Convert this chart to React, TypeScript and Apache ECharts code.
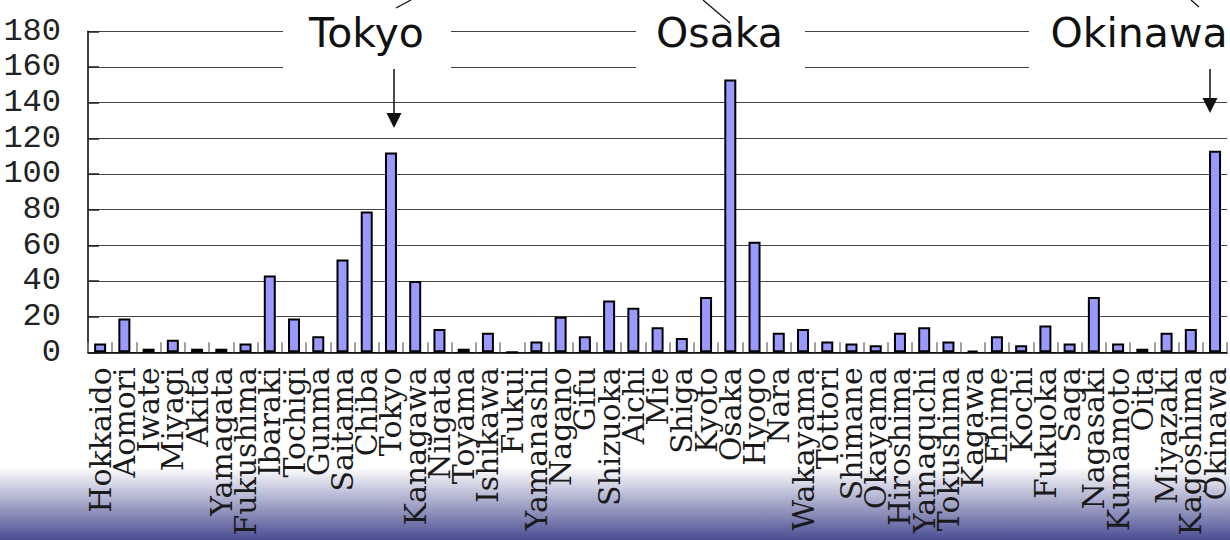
import React, { useEffect, useRef } from "react";
import * as echarts from "echarts";

const prefectures = [
  "Hokkaido", "Aomori", "Iwate", "Miyagi", "Akita", "Yamagata", "Fukushima",
  "Ibaraki", "Tochigi", "Gunma", "Saitama", "Chiba", "Tokyo", "Kanagawa",
  "Niigata", "Toyama", "Ishikawa", "Fukui", "Yamanashi", "Nagano", "Gifu",
  "Shizuoka", "Aichi", "Mie", "Shiga", "Kyoto", "Osaka", "Hyogo", "Nara",
  "Wakayama", "Tottori", "Shimane", "Okayama", "Hiroshima", "Yamaguchi",
  "Tokushima", "Kagawa", "Ehime", "Kochi", "Fukuoka", "Saga", "Nagasaki",
  "Kumamoto", "Oita", "Miyazaki", "Kagoshima", "Okinawa",
];

const counts = [
  5, 19, 2, 7, 2, 2, 5,
  43, 19, 9, 52, 79, 112, 40,
  13, 2, 11, 0, 6, 20, 9,
  29, 25, 14, 8, 31, 153, 62, 11,
  13, 6, 5, 4, 11, 14,
  6, 1, 9, 4, 15, 5, 31,
  5, 2, 11, 13, 113,
];

const yMin = 0;
const yMax = 180;
const yStep = 20;

const calloutNames = ["Tokyo", "Osaka", "Okinawa"];

export default function App() {
  const ref = useRef<HTMLDivElement>(null);

  useEffect(() => {
    if (!ref.current) return;
    const chart = echarts.init(ref.current, null, { renderer: "svg" });

    const textCenters = [366.5, 719.5, 1139];
    const boxes = [
      [283, 168],
      [636, 169],
      [1029, 220],
    ];

    const graphics: any[] = [
      {
        type: "rect",
        silent: true,
        z: -10,
        shape: { x: 0, y: 467, width: 1230, height: 73 },
        style: {
          fill: new echarts.graphic.LinearGradient(0, 0, 0, 1, [
            { offset: 0, color: "#ffffff" },
            { offset: 1, color: "#4a4d92" },
          ]),
        },
      },
    ];

    calloutNames.forEach((name, i) => {
      graphics.push({
        type: "rect",
        silent: true,
        z: 10,
        shape: { x: boxes[i][0], y: 8, width: boxes[i][1], height: 61 },
        style: { fill: "#ffffff" },
      });
      graphics.push({
        type: "text",
        silent: true,
        z: 12,
        x: textCenters[i],
        y: 33,
        style: {
          text: name,
          fill: "#111111",
          font: '41px "DejaVu Sans"',
          align: "center",
          verticalAlign: "middle",
        },
      });
    });

    // balloon edges at the top
    const edges = [
      [396, 8, 411, 0],
      [703, 0, 730, 23],
      [1191, 0, 1199, 7],
    ];
    edges.forEach((e) => {
      graphics.push({
        type: "line",
        silent: true,
        z: 11,
        shape: { x1: e[0], y1: e[1], x2: e[2], y2: e[3] },
        style: { stroke: "#111", lineWidth: 1.3 },
      });
    });

    // arrows
    const arrows = [
      [394, 69, 128],
      [1210, 69, 113],
    ];
    arrows.forEach((a) => {
      graphics.push({
        type: "line",
        silent: true,
        z: 11,
        shape: { x1: a[0], y1: a[1], x2: a[0], y2: a[2] - 12 },
        style: { stroke: "#111", lineWidth: 1.5 },
      });
      graphics.push({
        type: "polygon",
        silent: true,
        z: 11,
        shape: {
          points: [
            [a[0] - 7.5, a[2] - 15],
            [a[0] + 7.5, a[2] - 15],
            [a[0], a[2]],
          ],
        },
        style: { fill: "#111" },
      });
    });

    chart.setOption({
      animation: false,
      backgroundColor: "#ffffff",
      grid: { left: 88, top: 31.3, width: 1144, height: 321 },
      xAxis: {
        type: "category",
        data: prefectures,
        boundaryGap: true,
        axisLine: { show: true, lineStyle: { color: "#000", width: 1.5 } },
        axisTick: {
          show: true,
          inside: true,
          length: 10,
          lineStyle: { color: "#808080", width: 1.5 },
        },
        axisLabel: {
          interval: 0,
          rotate: 90,
          margin: 15,
          color: "#1a1a1a",
          fontSize: 30,
          fontFamily: "DejaVu Serif",
        },
        splitLine: { show: false },
      },
      yAxis: {
        type: "value",
        min: yMin,
        max: yMax,
        interval: yStep,
        axisLine: { show: true, lineStyle: { color: "#000", width: 1.5 } },
        axisTick: {
          show: true,
          inside: true,
          length: 11,
          lineStyle: { color: "#222", width: 1.5 },
        },
        axisLabel: {
          margin: 27,
          color: "#222",
          fontSize: 32,
          fontFamily: "Liberation Mono",
          padding: [5, 0, 0, 0],
        },
        splitLine: { show: true, lineStyle: { color: "#444", width: 1 } },
      },
      series: [
        {
          type: "bar",
          data: counts,
          barWidth: 12,
          itemStyle: { color: "#9999ff", borderColor: "#000", borderWidth: 2 },
        },
      ],
      graphic: graphics,
    });

    return () => chart.dispose();
  }, []);

  return (
    <div
      ref={ref}
      style={{ position: "fixed", left: 0, top: 0, width: 1230, height: 540 }}
    />
  );
}
